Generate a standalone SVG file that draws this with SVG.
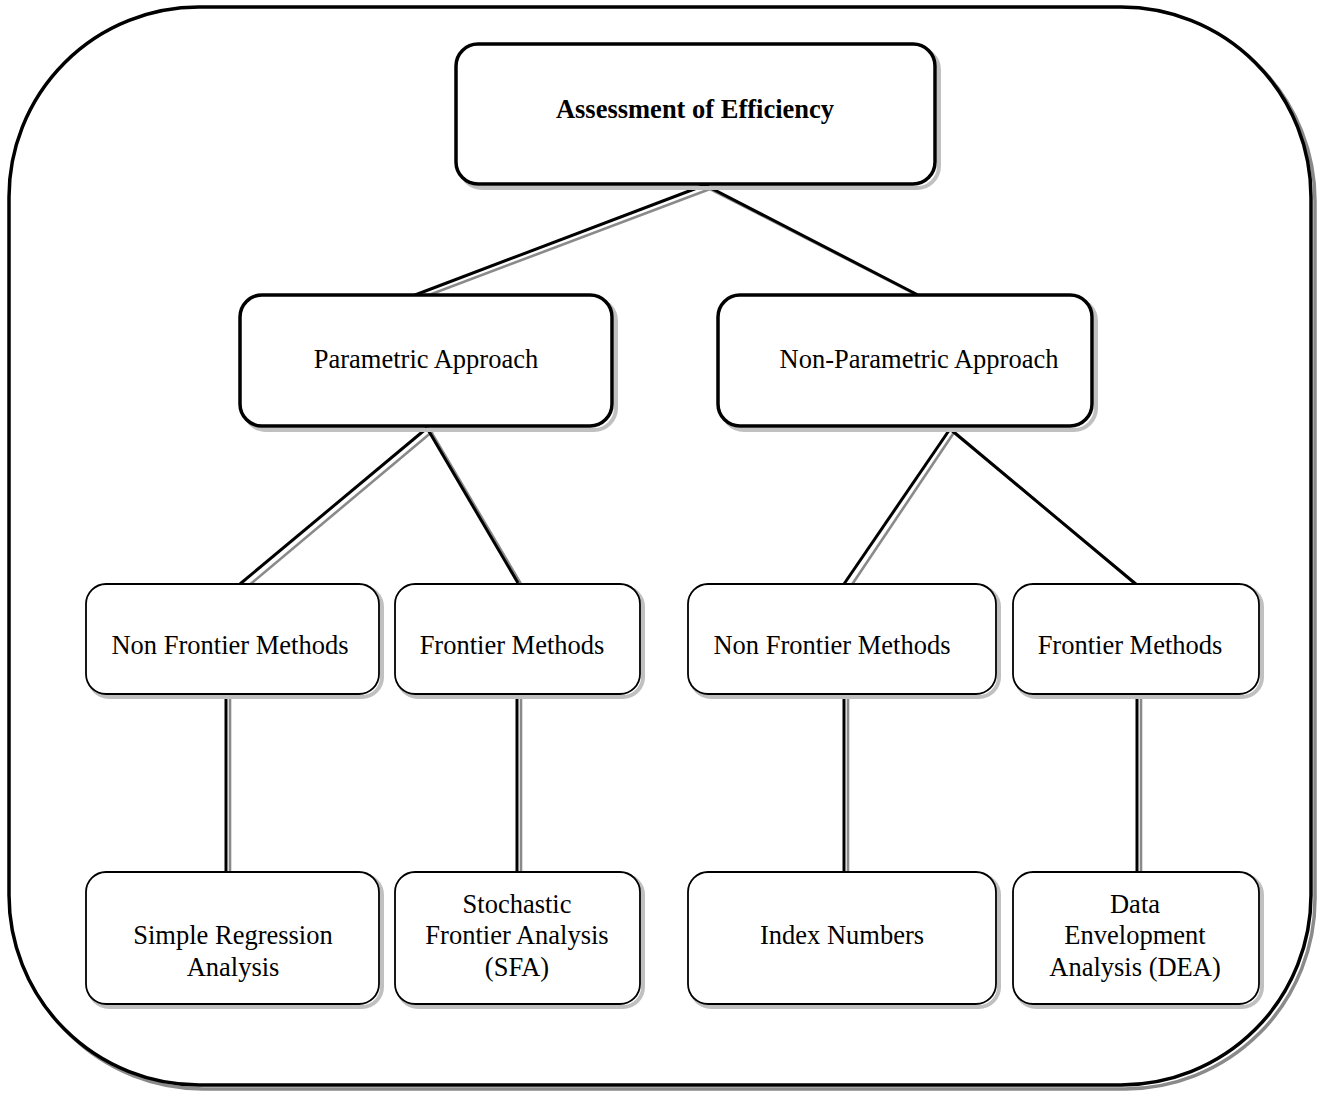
<svg xmlns="http://www.w3.org/2000/svg" width="1326" height="1097" viewBox="0 0 1326 1097">
  <style>
    text { font-family: "Liberation Serif", "Times New Roman", serif; font-size: 26.5px; fill: #000; text-anchor: middle; }
    .title { font-weight: bold; }
    .box { fill: #fff; stroke: #000; }
    .thick { stroke-width: 3.5; }
    .thin { stroke-width: 1.8; }
    .shade { fill: none; stroke: #c0c0c0; }
    .link { stroke: #000; stroke-width: 3; fill: none; }
    .link-shade { stroke: #8a8a8a; stroke-width: 2.6; fill: none; }
  </style>
  <rect width="1326" height="1097" fill="#fff"/>

  <!-- outer frame: shadow first, then white-filled frame on top -->
  <g id="frame">
    <rect x="13" y="11" width="1302" height="1078" rx="190" ry="190" fill="none" stroke="#8a8a8a" stroke-width="3.5"/>
    <rect x="9" y="7" width="1302" height="1078" rx="190" ry="190" fill="#fff" stroke="#000" stroke-width="3.5"/>
  </g>

  <!-- connectors -->
  <g id="connectors">
    <line class="link-shade" x1="710" y1="189" x2="421" y2="298"/>
    <line class="link" x1="705" y1="185" x2="415" y2="295"/>
    <line class="link-shade" x1="708" y1="188" x2="921" y2="297"/>
    <line class="link" x1="705" y1="185" x2="918" y2="295"/>

    <line class="link-shade" x1="433" y1="431" x2="247" y2="587"/>
    <line class="link" x1="427" y1="428" x2="240" y2="584"/>
    <line class="link-shade" x1="430" y1="430" x2="521" y2="584"/>
    <line class="link" x1="427" y1="428" x2="518" y2="583"/>

    <line class="link-shade" x1="955" y1="431" x2="849" y2="589"/>
    <line class="link" x1="950" y1="429" x2="844" y2="584"/>
    <line class="link-shade" x1="953" y1="431" x2="1140" y2="588"/>
    <line class="link" x1="950" y1="429" x2="1137" y2="585"/>

    <line class="link-shade" x1="230" y1="694" x2="230" y2="877"/>
    <line class="link" x1="226" y1="694" x2="226" y2="872"/>
    <line class="link-shade" x1="521" y1="694" x2="521" y2="877"/>
    <line class="link" x1="517" y1="694" x2="517" y2="872"/>
    <line class="link-shade" x1="848" y1="694" x2="848" y2="877"/>
    <line class="link" x1="844" y1="694" x2="844" y2="872"/>
    <line class="link-shade" x1="1141" y1="694" x2="1141" y2="877"/>
    <line class="link" x1="1137" y1="694" x2="1137" y2="872"/>
  </g>

  <!-- top level -->
  <g id="n-assessment">
    <rect class="shade" x="460" y="48" width="479" height="140" rx="22" stroke-width="4"/>
    <rect class="box thick" x="456" y="44" width="479" height="140" rx="22"/>
    <text class="title" x="695" y="118">Assessment of Efficiency</text>
  </g>

  <!-- approaches -->
  <g id="n-parametric">
    <rect class="shade" x="244" y="299" width="372" height="131" rx="22" stroke-width="4"/>
    <rect class="box thick" x="240" y="295" width="372" height="131" rx="22"/>
    <text x="426" y="368">Parametric Approach</text>
  </g>
  <g id="n-nonparametric">
    <rect class="shade" x="722" y="299" width="374" height="131" rx="22" stroke-width="4"/>
    <rect class="box thick" x="718" y="295" width="374" height="131" rx="22"/>
    <text x="919" y="368">Non-Parametric Approach</text>
  </g>

  <!-- method groups -->
  <g id="n-param-nonfrontier">
    <rect class="shade" x="89" y="587" width="293" height="110" rx="20" stroke-width="4"/>
    <rect class="box thin" x="86" y="584" width="293" height="110" rx="20"/>
    <text x="230" y="654">Non Frontier Methods</text>
  </g>
  <g id="n-param-frontier">
    <rect class="shade" x="398" y="587" width="245" height="110" rx="20" stroke-width="4"/>
    <rect class="box thin" x="395" y="584" width="245" height="110" rx="20"/>
    <text x="512" y="654">Frontier Methods</text>
  </g>
  <g id="n-nonparam-nonfrontier">
    <rect class="shade" x="691" y="587" width="308" height="110" rx="20" stroke-width="4"/>
    <rect class="box thin" x="688" y="584" width="308" height="110" rx="20"/>
    <text x="832" y="654">Non Frontier Methods</text>
  </g>
  <g id="n-nonparam-frontier">
    <rect class="shade" x="1016" y="587" width="246" height="110" rx="20" stroke-width="4"/>
    <rect class="box thin" x="1013" y="584" width="246" height="110" rx="20"/>
    <text x="1130" y="654">Frontier Methods</text>
  </g>

  <!-- techniques -->
  <g id="n-regression">
    <rect class="shade" x="89" y="875" width="293" height="132" rx="20" stroke-width="4"/>
    <rect class="box thin" x="86" y="872" width="293" height="132" rx="20"/>
    <text x="233" y="944">Simple Regression</text>
    <text x="233" y="976">Analysis</text>
  </g>
  <g id="n-sfa">
    <rect class="shade" x="398" y="875" width="245" height="132" rx="20" stroke-width="4"/>
    <rect class="box thin" x="395" y="872" width="245" height="132" rx="20"/>
    <text x="517" y="913">Stochastic</text>
    <text x="517" y="944">Frontier Analysis</text>
    <text x="517" y="976">(SFA)</text>
  </g>
  <g id="n-index">
    <rect class="shade" x="691" y="875" width="308" height="132" rx="20" stroke-width="4"/>
    <rect class="box thin" x="688" y="872" width="308" height="132" rx="20"/>
    <text x="842" y="944">Index Numbers</text>
  </g>
  <g id="n-dea">
    <rect class="shade" x="1016" y="875" width="246" height="132" rx="20" stroke-width="4"/>
    <rect class="box thin" x="1013" y="872" width="246" height="132" rx="20"/>
    <text x="1135" y="913">Data</text>
    <text x="1135" y="944">Envelopment</text>
    <text x="1135" y="976">Analysis (DEA)</text>
  </g>
</svg>
